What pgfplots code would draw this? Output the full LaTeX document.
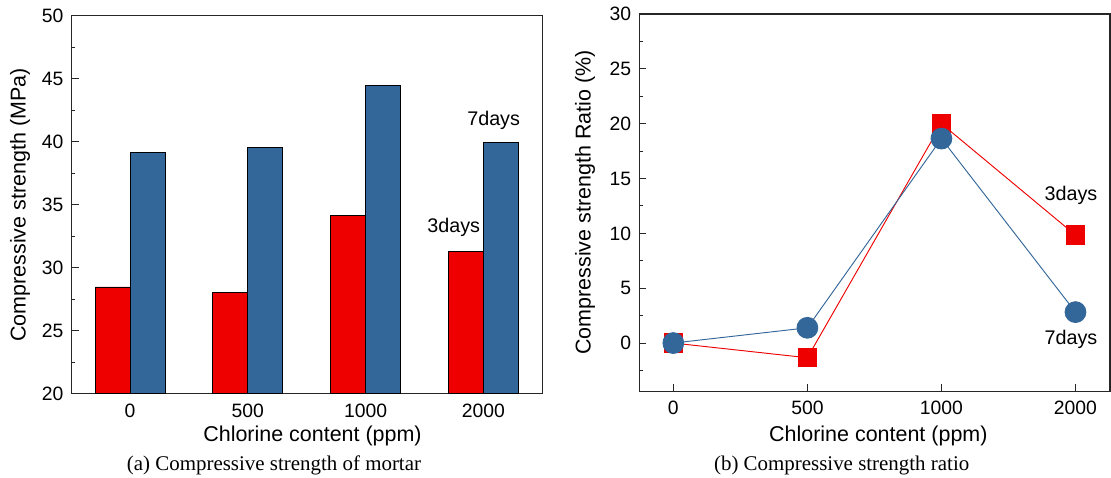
\documentclass[border=0pt]{standalone}
\usepackage{fontspec}
\setmainfont{Liberation Sans}
\newfontfamily\capfont{Liberation Serif}
\usepackage{pgfplots}
\pgfplotsset{compat=1.18}
\definecolor{barred}{RGB}{238,0,0}
\definecolor{barblue}{RGB}{51,102,153}

\pgfplotsset{
  panel/.style={
    scale only axis, anchor=south west,
    axis line style={line width=0.9pt, black!85},
    tick align=inside,
    tick style={line width=0.7pt, black!85},
    major tick length=5.3pt, minor tick length=2.6pt,
    xtick pos=bottom, ytick pos=left,
    ticklabel style={font=\fontsize{14.5}{17}\selectfont, inner sep=0pt},
    xticklabel style={anchor=base, yshift=-17.5pt},
    yticklabel style={anchor=east, xshift=-6pt},
    /pgf/number format/assume math mode=true,
  },
}
\tikzset{tag/.style={font=\fontsize{14.8}{17}\selectfont}}

\begin{document}
\begin{tikzpicture}
\useasboundingbox (-53.78pt,-62.5pt) rectangle (779.5pt,295.3pt);

% (a) compressive strength of mortar
\begin{axis}[panel, at={(0pt,0pt)}, width=352.95pt, height=283.5pt,
    xmin=-0.495, xmax=3.5, ymin=20, ymax=50,
    xtick={0,1,2,3}, xticklabels={0,500,1000,2000},
    x tick style={draw=none},
    ytick={20,25,...,50}, minor y tick num=1]
\addplot[ybar, bar width=0.297, bar shift=-0.1485, fill=barred, draw=black, line width=0.5pt]
    coordinates {(0,28.47)(1,28.07)(2,34.16)(3,31.27)};
\addplot[ybar, bar width=0.297, bar shift=0.1485, fill=barblue, draw=black, line width=0.5pt]
    coordinates {(0,39.16)(1,39.58)(2,44.48)(3,39.95)};
\node[tag] at (axis cs:3.087,41.66) {7days};
\node[tag] at (axis cs:2.748,33.21) {3days};
\end{axis}

% (b) compressive strength ratio
\begin{axis}[panel, at={(425.7pt,1.8pt)}, width=353pt, height=283pt,
    xmin=-0.254, xmax=3.257, ymin=-4.4, ymax=30,
    xtick={0,1,2,3}, xticklabels={0,500,1000,2000},
    ytick={0,5,...,30}, minor ytick={-2.5,2.5,...,27.5}]
\addplot[color=barred, line width=0.7pt, mark=square*, mark size=6.9pt,
    mark options={draw=none, fill=barred}]
    coordinates {(0,0)(1,-1.34)(2,20.0)(3,9.84)};
\addplot[color=barblue, line width=0.7pt, mark=*, mark size=7.8pt,
    mark options={draw=none, fill=barblue}]
    coordinates {(0,0)(1,1.39)(2,18.64)(3,2.82)};
\node[tag] at (axis cs:2.966,13.43) {3days};
\node[tag] at (axis cs:2.966,0.32) {7days};
\end{axis}

% axis titles and captions
\node[rotate=90, font=\fontsize{16.1}{19}\selectfont] at (-38.8pt,141.5pt) {Compressive strength (MPa)};
\node[rotate=90, font=\fontsize{16.1}{19}\selectfont] at (385pt,143.4pt) {Compressive strength Ratio (\%)};
\node[anchor=base, font=\fontsize{16.1}{19}\selectfont] at (180.6pt,-36.2pt) {Chlorine content (ppm)};
\node[anchor=base, font=\fontsize{16.1}{19}\selectfont] at (605pt,-35.7pt) {Chlorine content (ppm)};
\node[anchor=base, font=\capfont\fontsize{15.7}{19}\selectfont] at (151.7pt,-57.5pt) {(a) Compressive strength of mortar};
\node[anchor=base, font=\capfont\fontsize{15.7}{19}\selectfont] at (577.5pt,-57.5pt) {(b) Compressive strength ratio};
\end{tikzpicture}
\end{document}
